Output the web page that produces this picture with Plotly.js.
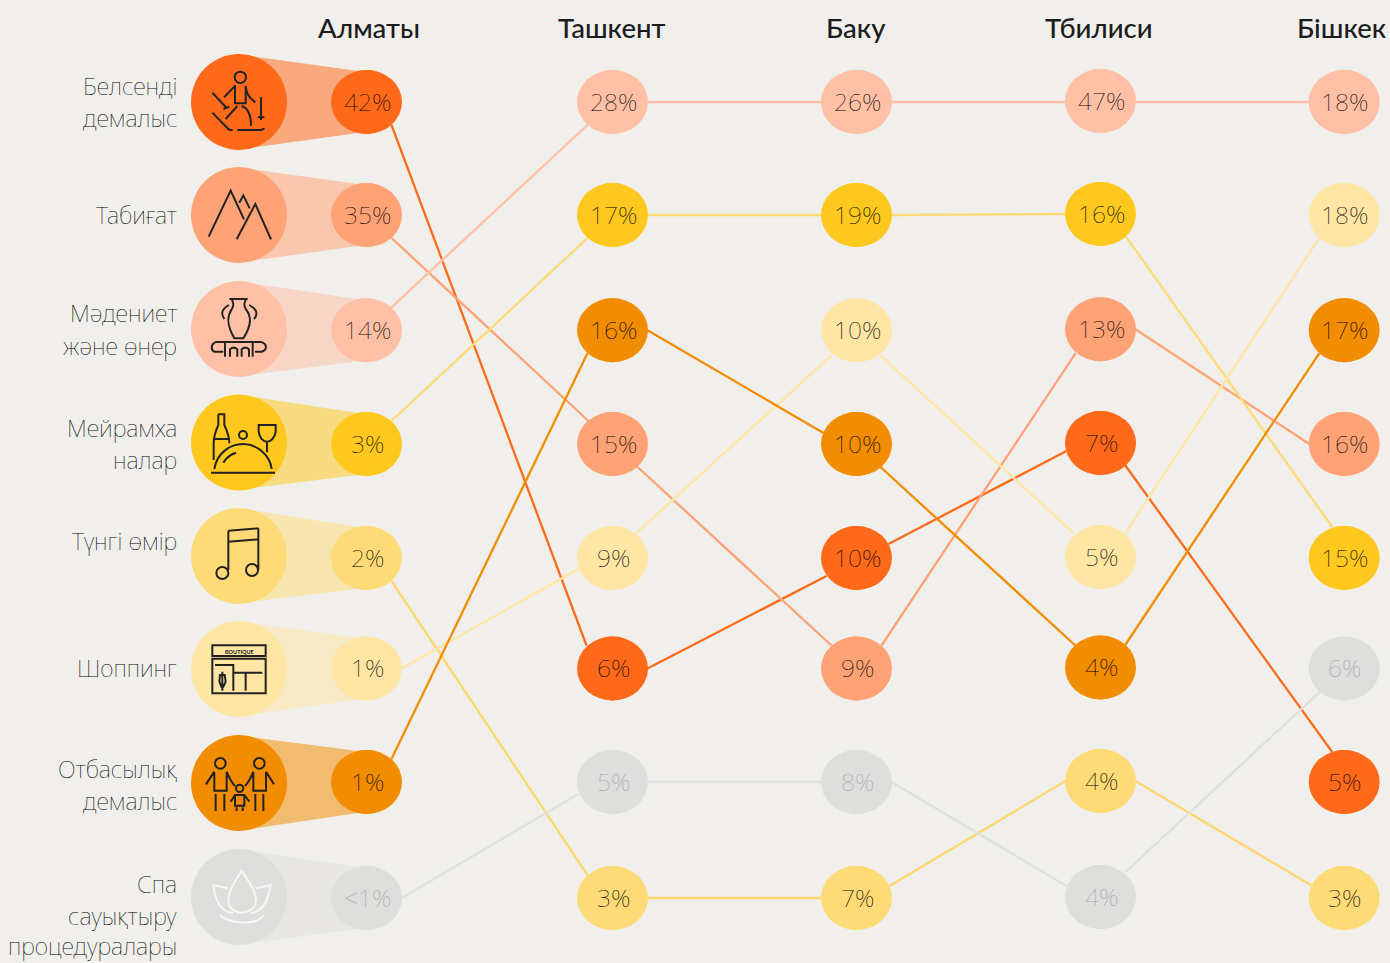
<!DOCTYPE html>
<html><head><meta charset="utf-8">
<script src="https://cdn.plot.ly/plotly-3.0.1.min.js"></script>
<style>html,body{margin:0;padding:0;background:#f0efeb;overflow:hidden}#c{width:1390px;height:963px}</style>
</head><body><div id="c"></div>
<script>
// ---------- data ----------
const cities = ['Алматы','Ташкент','Баку','Тбилиси','Бішкек'];
const categories = ['Белсенді<br>демалыс','Табиғат','Мәдениет<br>және өнер','Мейрамха<br>налар','Түнгі өмір','Шоппинг','Отбасылық<br>демалыс','Спа<br>сауықтыру<br>процедуралары'];
// rank (0 = top row) of each category in each city
const rankActive  = [0,5,4,3,6];
const rankNature  = [1,3,5,2,3];
const rankCulture = [2,0,0,0,0];
const rankFood    = [3,1,1,1,4];
const rankNight   = [4,7,7,6,7];
const rankShop    = [5,4,2,4,1];
const rankFamily  = [6,2,3,5,2];
const rankSpa     = [7,6,6,7,5];
// share labels of each category in each city
const valActive  = ['42%','6%','10%','7%','5%'];
const valNature  = ['35%','15%','9%','13%','16%'];
const valCulture = ['14%','28%','26%','47%','18%'];
const valFood    = ['3%','17%','19%','16%','15%'];
const valNight   = ['2%','3%','7%','4%','3%'];
const valShop    = ['1%','9%','10%','5%','18%'];
const valFamily  = ['1%','16%','10%','4%','17%'];
const valSpa     = ['<1%','5%','8%','4%','6%'];

// ---------- layout constants ----------
const cityX = [366.5,612.5,856.5,1100.5,1344.2];
const cityDy = [0,0,0,-1,0];
const titleX = [368.5,612,855.5,1098.5,1342];
const rowY = [102,215,330.3,444,558,668.5,782,898];
const bigY = [102,215,329,442.5,556,669,783,897];
const bigX = 239, BIGR = 48, RX = 35.5, RY = 32;
const FONT = '"Noto Sans", Lato, sans-serif';
const TITLE_FONT = 'Lato, "Noto Sans", sans-serif';
const BG = '#f0efeb', INK = '#222222';
const ranks = [rankActive,rankNature,rankCulture,rankFood,rankNight,rankShop,rankFamily,rankSpa];
const vals  = [valActive,valNature,valCulture,valFood,valNight,valShop,valFamily,valSpa];
const colors = ['#ff6a1a','#ffa376','#ffc0a6','#ffc81e','#ffdb78','#ffe6a4','#f28c00','#dededd'];
const lineColors = ['#ff6a1a','#ffa376','#ffc0a6','#ffdb78','#ffd76e','#ffe6a4','#f28c00','#e0e0de'];
// where each connector leaves and enters the ellipses: [startDx,startDy,endDx,endDy] for each gap
const linkActive  = [[25,23,-26,-23],[35,0,-30,18],[32,-14,-34,8],[24.5,22,-12,-30]];
const linkNature  = [[25,23,-24,-23],[24,22,-25,-23],[25,-23,-25,24],[35,0,-35,0]];
const linkCulture = [[25,-23,-25,23],[35,0,-35,0],[35,0,-35,1],[35,1,-35,0]];
const linkFood    = [[25,-23,-25,23],[35,0,-35,0],[35,0,-35,0],[25.5,22.6,-12,-31]];
const linkNight   = [[25,23,-25,-23],[35,0,-35,0],[33,-12,-35,0],[35,0,-32,-12]];
const linkShop    = [[35,0,-34,11],[24,-25,-25,25],[24,25,-27,-24],[25,-24,-25,23]];
const linkFamily  = [[25,-23,-25,23],[35,0,-33,-11],[24,23,-24,-21],[25,-23,-25,23]];
const linkSpa     = [[35,0,-34,12],[35,0,-35,0],[35,0,-34,-11],[25,-25,-24,23]];
const links = [linkActive,linkNature,linkCulture,linkFood,linkNight,linkShop,linkFamily,linkSpa];

const py = (k,j)=>rowY[k]+cityDy[j];

// ---------- traces ----------
const traces = [];
ranks.forEach((r,i)=>{
  const lx=[],ly=[];
  links[i].forEach((a,j)=>{
    lx.push(cityX[j]+a[0],cityX[j+1]+a[2],null);
    ly.push(py(r[j],j)+a[1],py(r[j+1],j+1)+a[3],null);
  });
  traces.push({type:'scatter',mode:'lines',x:lx,y:ly,hoverinfo:'skip',connectgaps:false,line:{color:lineColors[i],width:2.3}});
});
ranks.forEach((r,i)=>traces.push({type:'scatter',mode:'markers',x:cityX,y:r.map(py),hoverinfo:'skip',
  marker:{size:2*RY,color:colors[i],line:{width:0}}}));
traces.push({type:'scatter',mode:'markers',x:categories.map(()=>bigX),y:bigY,hoverinfo:'skip',
  marker:{size:2*BIGR,color:colors,line:{width:0}}});

// ---------- shapes ----------
const shapes = [];
colors.forEach((c,i)=>{
  const by=bigY[i], sy=rowY[ranks[i][0]];
  shapes.push({type:'path',layer:'below',xref:'x',yref:'y',fillcolor:c,opacity:0.52,line:{width:0},
    path:`M257,${by-45} L358,${sy-31} L358,${sy+31} L257,${by+45} Z`});
});
ranks.forEach((r,i)=>r.forEach((k,j)=>shapes.push({type:'circle',layer:'above',xref:'x',yref:'y',
  x0:cityX[j]-RX,x1:cityX[j]+RX,y0:py(k,j)-RY,y1:py(k,j)+RY,fillcolor:colors[i],line:{width:0}})));

function circ(x,y,r){const k=0.5523*r;return `M${x-r},${y} C${x-r},${y-k} ${x-k},${y-r} ${x},${y-r} C${x+k},${y-r} ${x+r},${y-k} ${x+r},${y} C${x+r},${y+k} ${x+k},${y+r} ${x},${y+r} C${x-k},${y+r} ${x-r},${y+k} ${x-r},${y} Z`;}
function mapPath(p,top){return p.replace(/(-?[\d.]+),(-?[\d.]+)/g,(m,a,b)=>`${(180+a/3).toFixed(2)},${(top+b/3).toFixed(2)}`);}
function icon(p,top,col,w){shapes.push({type:'path',layer:'above',xref:'x',yref:'y',path:mapPath(p,top),line:{color:col||INK,width:w||2},fillcolor:'rgba(0,0,0,0)'});}
icon(circ(181,112,17)+' M165,135 L165,190 L197,190 L197,137 M132,172 L165,138 M197,140 C200,160 205,172 226,187 M97,158 L140,204 M130,207 L148,200 M243,172 L243,240 M233,232 L253,232 M137,237 L172,198 M185,198 C205,205 213,225 213,257 M97,218 L145,267 Q150,271 158,271 M172,270 L240,270 Q250,270 252,264',40);
icon('M86,590 L152,452 L192,538 M178,488 L190,466 L209,505 M170,598 L226,492 L273,598',40);
icon('M148,87 L203,87 M155,87 C160,100 163,105 155,118 C140,140 140,165 163,205 L190,205 C215,165 215,140 198,118 C190,105 193,100 198,87 M147,105 C120,120 125,135 133,147 M208,105 C235,120 232,135 222,147 M105,216 L245,216 M130,245 L105,245 C92,243 92,222 105,218 M225,245 L245,245 C262,240 262,222 245,217 M135,218 L135,260 M150,260 L150,238 Q161,228 172,238 L172,260 M185,260 L185,238 Q196,228 207,238 L207,260 M218,218 L218,260',270);
icon('M115,433 L133,433 L133,465 C140,480 148,500 148,520 M115,433 L115,465 C108,480 101,500 101,520 L101,570 M101,507 L148,507 '+circ(189,495,12)+' M236,465 L287,465 L287,485 C285,505 270,515 261,515 C250,515 238,505 236,485 Z M261,515 L261,547 M103,597 C110,550 150,522 189,522 C230,522 270,555 275,597 M93,608 L285,608 M130,578 C140,562 155,552 168,548',270);
icon('M145,125 L235,118 M145,92 L235,85 M145,92 L145,210 M235,85 L235,210 '+circ(127,219,18)+' '+circ(216,210,18),500);
icon('M97,436 L257,436 L257,468 L97,468 Z M97,476 L257,476 L257,580 L97,580 Z M105,495 L160,495 L160,572 M197,518 L197,572 M160,518 L247,518 M127,515 L127,572 M120,525 L134,525 L137,545 L130,560 L124,560 L118,545 Z',500);
icon(circ(121,100,16)+' M103,125 L103,182 L140,182 L140,125 M103,125 L78,163 M140,125 C148,145 155,158 165,168 M107,192 L107,243 M133,192 L133,243 '+circ(238,100,16)+' M220,125 L220,182 L258,182 L258,125 M258,125 L282,163 M220,125 C212,145 205,158 195,168 M226,192 L226,243 M250,192 L250,243 '+circ(179,175,11)+' M165,195 L193,195 L193,227 L165,227 Z M165,195 L152,215 M193,195 L208,215 M170,232 L170,243 M188,232 L188,243',730);
icon('M185,423 C170,445 145,480 145,510 C145,535 165,548 185,548 C205,548 228,535 228,510 C228,480 200,445 185,423 Z M143,475 L100,465 C105,510 120,545 160,550 M228,475 L272,465 C265,510 250,545 212,550 M120,555 C140,580 230,590 250,555',730,'#f6f6f4',2);

// ---------- text ----------
const ann = [];
cities.forEach((c,j)=>ann.push({x:titleX[j],y:27,xref:'x',yref:'y',text:c,showarrow:false,xanchor:'center',yanchor:'middle',
  font:{family:TITLE_FONT,size:27.5,color:'#1c1c1c',weight:500}}));
const labelLines = [[86,118],[215],[313,346],[428,460],[541],[668],[769,801],[884,916,946]];
categories.forEach((c,i)=>c.split('<br>').forEach((t,l)=>ann.push({x:179,y:labelLines[i][l],xref:'x',yref:'y',text:t,showarrow:false,xanchor:'right',yanchor:'middle',
  font:{family:FONT,size:23.6,color:'#000000',weight:100}})));
vals.forEach((v,i)=>v.forEach((t,j)=>ann.push({x:cityX[j]+0.5,y:py(ranks[i][j],j)-1,xref:'x',yref:'y',text:t.replace('<','&lt;'),showarrow:false,xanchor:'center',yanchor:'middle',
  font:{family:FONT,size:24.5,color:i===7?'#a8a8a6':'#000000',weight:100}})));
ann.push({x:239,y:651.7,xref:'x',yref:'y',text:'BOUTIQUE',showarrow:false,xanchor:'center',yanchor:'middle',font:{family:TITLE_FONT,size:5.5,color:INK,weight:700}});

Plotly.newPlot('c',traces,{
  width:1390,height:963,margin:{l:0,r:0,t:0,b:0},paper_bgcolor:BG,plot_bgcolor:BG,showlegend:false,hovermode:false,
  xaxis:{range:[0,1390],visible:false,fixedrange:true},
  yaxis:{range:[963,0],visible:false,fixedrange:true},
  shapes:shapes,annotations:ann
},{displayModeBar:false,staticPlot:true});
</script></body></html>
